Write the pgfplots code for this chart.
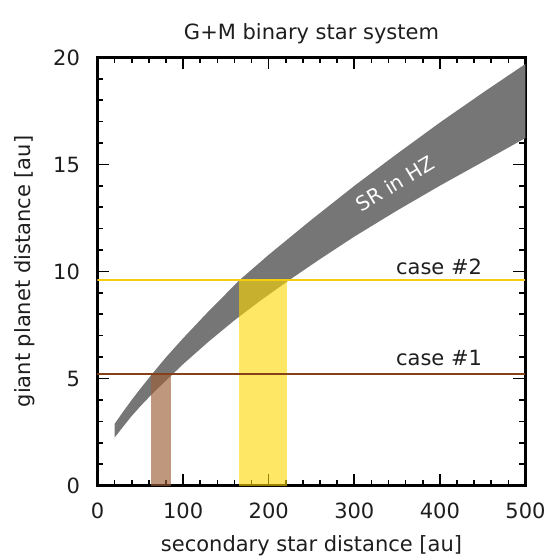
\documentclass[border=0pt]{standalone}
\usepackage{pgfplots}
\pgfplotsset{compat=1.18}
\usepackage{fontspec}
\setmainfont{DejaVu Sans}
\definecolor{bandgray}{RGB}{118,118,118}
\definecolor{caseyellow}{RGB}{245,205,10}
\definecolor{barYellow}{RGB}{255,215,0}
\definecolor{casebrown}{RGB}{135,65,25}
\definecolor{barBrown}{RGB}{155,95,55}
\definecolor{txt}{RGB}{30,30,30}
\begin{document}
\begin{tikzpicture}[font=\fontsize{21}{25}\selectfont, text=txt]
\begin{axis}[
  name=ax,
  scale only axis, width=428pt, height=428pt,
  xmin=0, xmax=500, ymin=0, ymax=20,
  xtick={0,100,...,500}, ytick={0,5,...,20},
  minor x tick num=4, minor y tick num=4,
  major tick length=12pt, minor tick length=6pt,
  tick align=inside, tick pos=both,
  every tick/.style={black, line width=1.6pt},
  axis line style={black, line width=2.2pt},
  /pgf/number format/assume math mode=true,
  ticklabel style={font=\fontsize{21}{25}\selectfont},
  xticklabel style={yshift=-14pt},
  yticklabel style={xshift=-14pt},
  title={G+M binary star system},
  title style={at={(axis description cs:0.5,1.029)}, anchor=base},
  xlabel={secondary star distance [au]},
  xlabel style={at={(axis description cs:0.5,-0.155)}, anchor=base},
  ylabel={giant planet distance [au]},
  ylabel style={at={(axis description cs:-0.157,0.5)}, anchor=base},
  clip=true,
]
% SR in HZ band: upper edge then lower edge reversed
\addplot[fill=bandgray, draw=none] coordinates {
  (20,2.88) (30,3.45) (40,4.0) (50,4.52) (63,5.17) (80,5.99) (100,6.88)
  (130,8.15) (166,9.6) (200,10.78) (250,12.42) (300,14.0) (350,15.5)
  (400,16.96) (450,18.35) (500,19.70)
  (500,16.24) (450,15.12) (400,14.01) (350,12.85) (300,11.63) (260,10.58)
  (224,9.60) (190,8.63) (160,7.72) (130,6.73) (100,5.67) (87,5.17)
  (70,4.52) (60,4.12) (50,3.7) (40,3.25) (30,2.75) (20,2.24)
} -- cycle;
% case bars
\addplot[fill=barBrown, fill opacity=0.65, draw=none] coordinates {
  (62,0) (62,5.2) (86,5.2) (86,0)} -- cycle;
\addplot[fill=barYellow, fill opacity=0.6, draw=none] coordinates {
  (165,0) (165,9.6) (221,9.6) (221,0)} -- cycle;
% case lines
\addplot[casebrown, line width=2pt] coordinates {(0,5.2) (500,5.2)};
\addplot[caseyellow, line width=2pt] coordinates {(0,9.62) (500,9.62)};
\node[anchor=base, inner sep=0pt] at (axis cs:399,9.84) {case \#2};
\node[anchor=base, inner sep=0pt] at (axis cs:399,5.6) {case \#1};
\node[white, rotate=31, inner sep=0pt, font=\fontsize{20}{24}\selectfont] at (axis cs:347.5,14.1) {SR in HZ};
\end{axis}
\path ([xshift=-97.5pt,yshift=-74.5pt]ax.south west) rectangle ([xshift=24.5pt,yshift=57.5pt]ax.north east);
\end{tikzpicture}
\end{document}
